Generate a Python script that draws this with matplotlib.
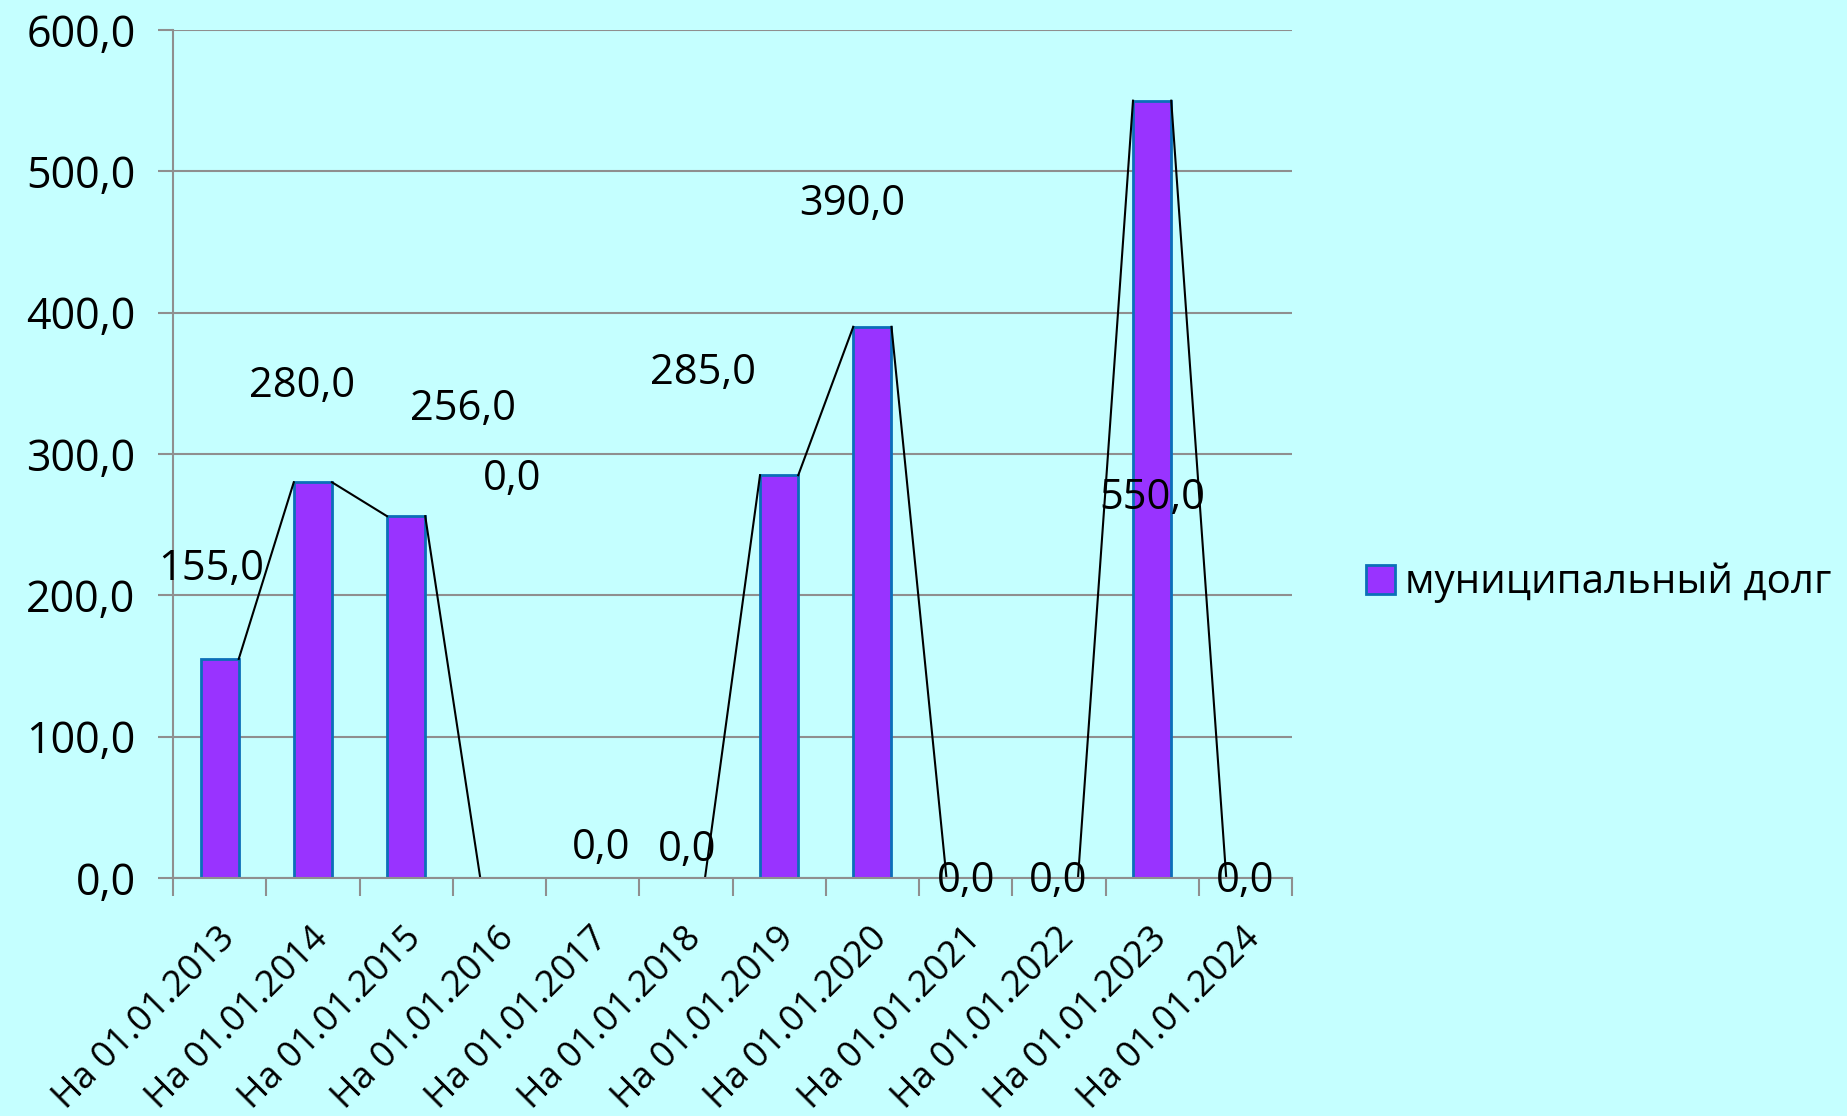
import numpy as np
import matplotlib.pyplot as plt
from matplotlib.transforms import ScaledTranslation

# данные
categories = ["На 01.01.2013", "На 01.01.2014", "На 01.01.2015", "На 01.01.2016",
              "На 01.01.2017", "На 01.01.2018", "На 01.01.2019", "На 01.01.2020",
              "На 01.01.2021", "На 01.01.2022", "На 01.01.2023", "На 01.01.2024"]
debt = [155.0, 280.0, 256.0, 0.0, 0.0, 0.0, 285.0, 390.0, 0.0, 0.0, 550.0, 0.0]
series_name = "муниципальный долг"
y_ticks = [0, 100, 200, 300, 400, 500, 600]

# смещения подписей данных (в пикселях, от верха столбца)
label_dx = [-8, -11, 57, 13, 9, 1, -76, -20, 0, -1, 0, 0]
label_dy = [90, 96, 107, 399, 30, 28, 102, 123, -3, -3, -397, -3]

bg = "#C5FFFF"
grid_c = "#8F8F8F"
font = "Open Sans"

fig = plt.figure(figsize=(18.47, 11.16), dpi=100, facecolor=bg)
ax = fig.add_axes([173 / 1847, 1 - 878 / 1116, 1119 / 1847, 848 / 1116])
ax.set_facecolor(bg)

x = np.arange(len(categories))
w = 0.41
ax.bar(x, debt, width=w, color="#9933FF", edgecolor="#0B6FB8",
       linewidth=[2 if v > 0 else 0 for v in debt],
       label=series_name, zorder=3)

# линии ряда: от правого верхнего угла к левому верхнему углу следующего столбца
for i in range(len(debt) - 1):
    if debt[i] == 0 and debt[i + 1] == 0:
        continue
    ax.plot([x[i] + w / 2, x[i + 1] - w / 2], [debt[i], debt[i + 1]],
            color="black", linewidth=1.5, zorder=4)

ax.set_xlim(-0.5, len(categories) - 0.5)
ax.set_ylim(0, 600)
ax.set_yticks(y_ticks)
ax.set_yticklabels([f"{v:.1f}".replace(".", ",") for v in y_ticks],
                   fontsize=31, family=font)
ax.yaxis.grid(True, color=grid_c, linewidth=1.5, zorder=0)
ax.tick_params(axis="y", length=11, width=1.5, color=grid_c, pad=16)

# деления по границам категорий, подписи по центрам
ax.set_xticks(np.arange(len(categories) + 1) - 0.5)
ax.set_xticklabels([])
ax.tick_params(axis="x", which="major", length=13, width=1.5, color=grid_c)
ax.set_xticks(x, minor=True)
ax.set_xticklabels(categories, minor=True, rotation=45, ha="right", va="center",
                   rotation_mode="anchor", fontsize=26, family=font)
ax.tick_params(axis="x", which="minor", length=0, pad=40)
for lab in ax.get_xticklabels(minor=True):
    lab.set_transform(lab.get_transform() + ScaledTranslation(0.1, 0, fig.dpi_scale_trans))

for s in ["top", "right"]:
    ax.spines[s].set_visible(False)
for s in ["left", "bottom"]:
    ax.spines[s].set_color(grid_c)
    ax.spines[s].set_linewidth(1.5)
    ax.spines[s].set_zorder(4.5)

# подписи данных
for i, v in enumerate(debt):
    ax.annotate(f"{v:.1f}".replace(".", ","), (x[i], v),
                xytext=(label_dx[i] * 0.72, label_dy[i] * 0.72),
                textcoords="offset points", ha="center", va="center",
                fontsize=30, family=font, zorder=5, annotation_clip=False)

fig.legend(loc="center left", bbox_to_anchor=(1366 / 1847, 1 - 583 / 1116),
           frameon=False, prop={"family": font, "size": 29},
           borderpad=0, borderaxespad=0,
           handlelength=0.72, handleheight=0.72, handletextpad=0.25)

fig.savefig("out.png", dpi=100, facecolor=bg)
